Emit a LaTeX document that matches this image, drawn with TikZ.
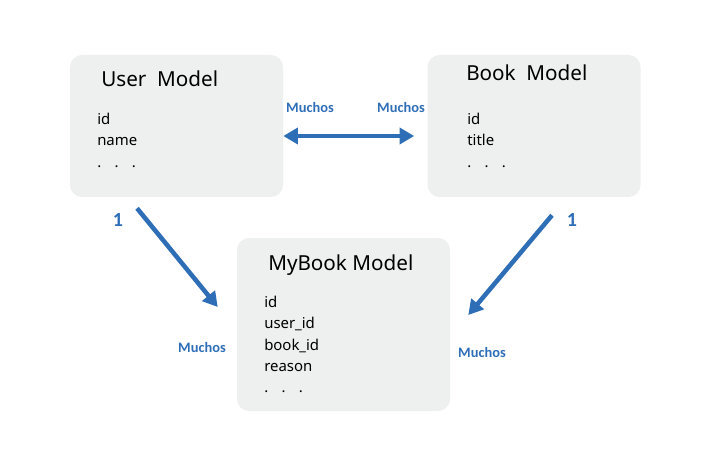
\documentclass[tikz,border=0pt]{standalone}
\usepackage{fontspec}
\setmainfont{Noto Sans}
\newfontfamily\labelfont{Carlito}
\usepackage {tikz}
\usetikzlibrary {positioning,arrows.meta}
\definecolor {linkblue}{RGB}{46,110,182}
\definecolor {boxgray}{RGB}{238,239,239}

\begin{document}
\begin{tikzpicture}[x=0.75pt,y=-0.75pt]
  \tikzstyle{model}=[rectangle, rounded corners=9pt, fill=boxgray, minimum width=159.75pt]
  \tikzstyle{title}=[anchor=base west, inner sep=0pt, font=\fontsize{15.5}{18}\selectfont]
  \tikzstyle{fields}=[anchor=north west, inner sep=0pt, align=left, font=\fontsize{11.2}{15.9}\selectfont]
  \tikzstyle{link}=[linkblue, line width=3.4pt, -{Triangle[length=11pt,width=12pt]}]
  \tikzstyle{many}=[text=linkblue, font=\labelfont\bfseries\fontsize{10.8}{13}\selectfont]
  \tikzstyle{one}=[text=linkblue, font=\labelfont\bfseries\fontsize{15}{18}\selectfont]
  \useasboundingbox (0,0) rectangle (709,470);

  \node[model, minimum height=106.5pt] (user) at (176.5,126) {};
  \node[model, minimum height=106.5pt] (book) at (534,126) {};
  \node[model, minimum height=129.75pt] (mybook) at (343.5,324.5) {};

  \node[title] (user_title) at (101,87) {User~~Model};
  \node[fields] (user_fields) at (97,113) {id\\name\\.\hspace{10pt}.\hspace{10pt}.};
  \node[title] (book_title) at (466,81) {Book~~Model};
  \node[fields] (book_fields) at (467,113) {id\\title\\.\hspace{10pt}.\hspace{10pt}.};
  \node[title] (mybook_title) at (268,270) {MyBook Model};
  \node[fields] (mybook_fields) at (264,296) {id\\user\_id\\book\_id\\reason\\.\hspace{10pt}.\hspace{10pt}.};

  \coordinate (user_out) at ([shift={(-29.6pt,-8.25pt)}]user.south);
  \coordinate (mybook_in_l) at ([shift={(-14.25pt,13.1pt)}]mybook.west);
  \coordinate (book_out) at ([shift={(13.5pt,-13.5pt)}]book.south);
  \coordinate (mybook_in_r) at ([shift={(13.5pt,7.1pt)}]mybook.east);

  \draw[link, {Triangle[length=11pt,width=12pt]}-{Triangle[length=11pt,width=12pt]}, shorten >=9.75pt]
    ([yshift=-7.5pt]user.east) -- ([yshift=-7.5pt]book.west);
  \draw[link] (user_out) -- (mybook_in_l);
  \draw[link] (book_out) -- (mybook_in_r);

  \node[many] (many_user) at (310,108) {Muchos};
  \node[many] (many_book) at (401,108) {Muchos};
  \node[many] (many_left) at (202,347) {Muchos};
  \node[many] (many_right) at (482,352) {Muchos};
  \node[one] (one_user) at (118,220) {1};
  \node[one] (one_book) at (572,220) {1};
\end{tikzpicture}
\end{document}
